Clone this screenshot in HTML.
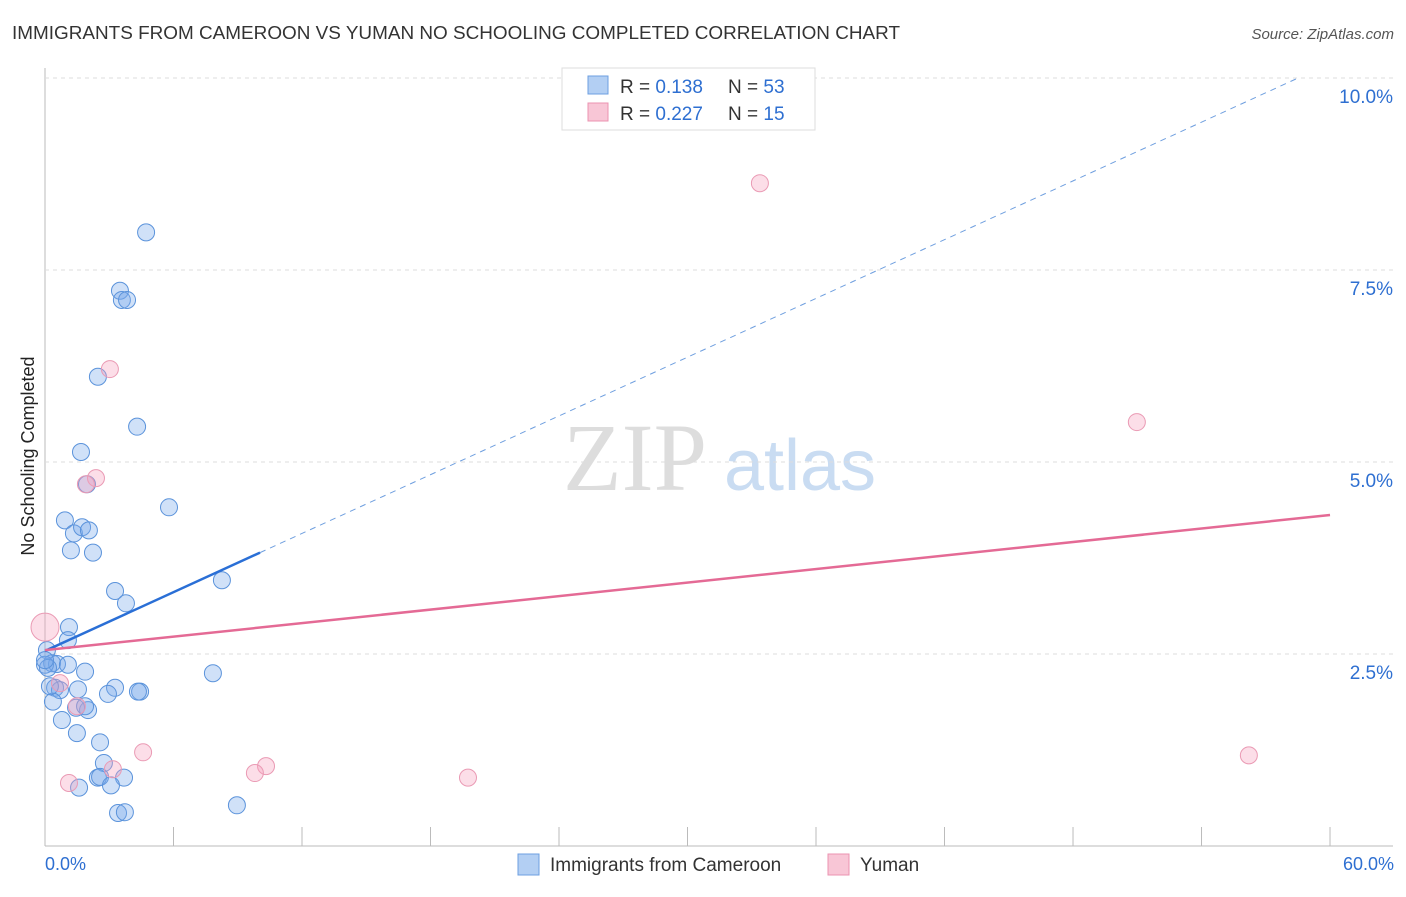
<!DOCTYPE html>
<html><head><meta charset="utf-8"><style>
body{margin:0;background:#fff;font-family:"Liberation Sans",sans-serif}
</style></head><body>
<svg id="c" width="1406" height="892" xmlns="http://www.w3.org/2000/svg">
<text x="12" y="39" font-size="18" fill="#333" textLength="888" lengthAdjust="spacingAndGlyphs">IMMIGRANTS FROM CAMEROON VS YUMAN NO SCHOOLING COMPLETED CORRELATION CHART</text>
<text x="1394" y="39" font-size="15" fill="#555" font-style="italic" text-anchor="end">Source: ZipAtlas.com</text>
<text x="34" y="456" font-size="18" fill="#222" text-anchor="middle" transform="rotate(-90 34 456)">No Schooling Completed</text>
<text x="635" y="490" font-size="96" fill="#ddd" font-family="Liberation Serif,serif" text-anchor="middle">ZIP</text>
<text x="800" y="490" font-size="72" fill="#c9dcf2" text-anchor="middle">atlas</text>
<g id="grid"></g><g id="ticks"></g><g id="pts"></g><g id="lines"></g>
<g>
<rect x="562" y="68" width="253" height="62" fill="#fff" stroke="#ddd"/>
<rect x="588" y="76" width="20" height="18" fill="#b3cff3" stroke="#6c9fe0"/>
<rect x="588" y="103" width="20" height="18" fill="#f8c6d6" stroke="#eb93b0"/>
<text x="620" y="93" font-size="19" fill="#333">R = <tspan fill="#2e6fd1">0.138</tspan><tspan x="728">N = </tspan><tspan fill="#2e6fd1">53</tspan></text>
<text x="620" y="120" font-size="19" fill="#333">R = <tspan fill="#2e6fd1">0.227</tspan><tspan x="728">N = </tspan><tspan fill="#2e6fd1"> 15</tspan></text>
</g>
<g>
<rect x="518" y="854" width="21" height="21" fill="#b3cff3" stroke="#6c9fe0"/>
<text x="550" y="871" font-size="19" fill="#333">Immigrants from Cameroon</text>
<rect x="828" y="854" width="21" height="21" fill="#f8c6d6" stroke="#eb93b0"/>
<text x="860" y="871" font-size="19" fill="#333">Yuman</text>
</g>
<text x="45" y="870" font-size="18" fill="#2e6fd1">0.0%</text>
<text x="1394" y="870" font-size="18" fill="#2e6fd1" text-anchor="end">60.0%</text>
</svg>
<script>
const yTicks=[2.5,5.0,7.5,10.0];
const xTicks=[0,6,12,18,24,30,36,42,48,54,60];
const blueX=[4.72,3.50,3.59,3.83,2.47,4.30,1.68,1.96,5.79,0.93,1.35,1.73,2.05,1.21,2.24,3.27,3.78,8.26,1.12,1.07,0.09,0.33,0.56,1.07,1.87,7.84,0.47,0.70,1.54,3.27,2.94,4.44,4.34,0.37,0.79,1.45,2.01,1.87,1.49,2.57,2.75,3.69,2.47,2.57,3.08,1.59,8.96,3.41,3.73,0,0.14,0,0.23];
const blueY=[7.99,7.23,7.11,7.11,6.11,5.46,5.13,4.71,4.41,4.24,4.07,4.15,4.11,3.85,3.82,3.32,3.16,3.46,2.85,2.68,2.55,2.38,2.37,2.36,2.27,2.25,2.06,2.03,2.04,2.06,1.98,2.01,2.01,1.88,1.64,1.80,1.77,1.82,1.47,1.35,1.08,0.89,0.89,0.90,0.79,0.76,0.53,0.43,0.44,2.36,2.32,2.42,2.08];
const pinkX=[33.38,3.03,2.38,1.91,0,0.70,1.49,4.58,3.17,10.32,9.80,1.12,19.75,50.98,56.21];
const pinkY=[8.63,6.21,4.79,4.71,2.85,2.12,1.82,1.22,1.00,1.04,0.95,0.82,0.89,5.52,1.18];
const blueTrend=[2.54,0.1275,10.04];
const pinkTrend=[2.55,4.31];
const X=v=>45+v*21.417, Y=v=>846-v*76.8;
const NS="http://www.w3.org/2000/svg";
function mk(p,t,a){const e=document.createElementNS(NS,t);for(const k in a)e.setAttribute(k,a[k]);document.getElementById(p).appendChild(e);return e;}
let g=mk('grid','line',{x1:45,y1:68,x2:45,y2:846,stroke:'#bbb'});


g=mk('grid','line',{x1:45,y1:846,x2:1393,y2:846,stroke:'#bbb'});


yTicks.forEach(v=>{
 const l=mk('grid','line',{x1:45,x2:1393,y1:Y(v),y2:Y(v),stroke:'#ddd','stroke-dasharray':'4,4'});
 
 
 const t=mk('grid','text',{x:1393,y:Y(v)+25,'font-size':19,fill:'#2e6fd1','text-anchor':'end'});
 t.textContent=v.toFixed(1)+'%';
 
 
});
xTicks.forEach(v=>{
 const l=mk('ticks','line',{x1:X(v),x2:X(v),y1:827,y2:846,stroke:'#bbb'});
 
 
});
blueX.forEach((x,i)=>{
 const c=mk('pts','circle',{cx:X(x),cy:Y(blueY[i]),r:8.5,fill:'rgba(120,170,235,0.35)',stroke:'#5b93db','stroke-width':1});
 
 
});
pinkX.forEach((x,i)=>{
 const c=mk('pts','circle',{cx:X(x),cy:Y(pinkY[i]),r:(x===0?14:8.5),fill:'rgba(245,160,190,0.35)',stroke:'#ea9ab4','stroke-width':1});
 
 
});
const [b0,bs,bx]=blueTrend;
let l=mk('lines','line',{x1:X(0),y1:Y(b0),x2:X(bx),y2:Y(b0+bs*bx),stroke:'#2a6fd6','stroke-width':2.5});


const xe=(10-b0)/bs;
l=mk('lines','line',{x1:X(bx),y1:Y(b0+bs*bx),x2:X(xe),y2:Y(10),stroke:'#6f9fdf','stroke-width':1,'stroke-dasharray':'6,5'});


l=mk('lines','line',{x1:X(0),y1:Y(pinkTrend[0]),x2:X(60),y2:Y(pinkTrend[1]),stroke:'#e46a95','stroke-width':2.5});


</script>
</body></html>
